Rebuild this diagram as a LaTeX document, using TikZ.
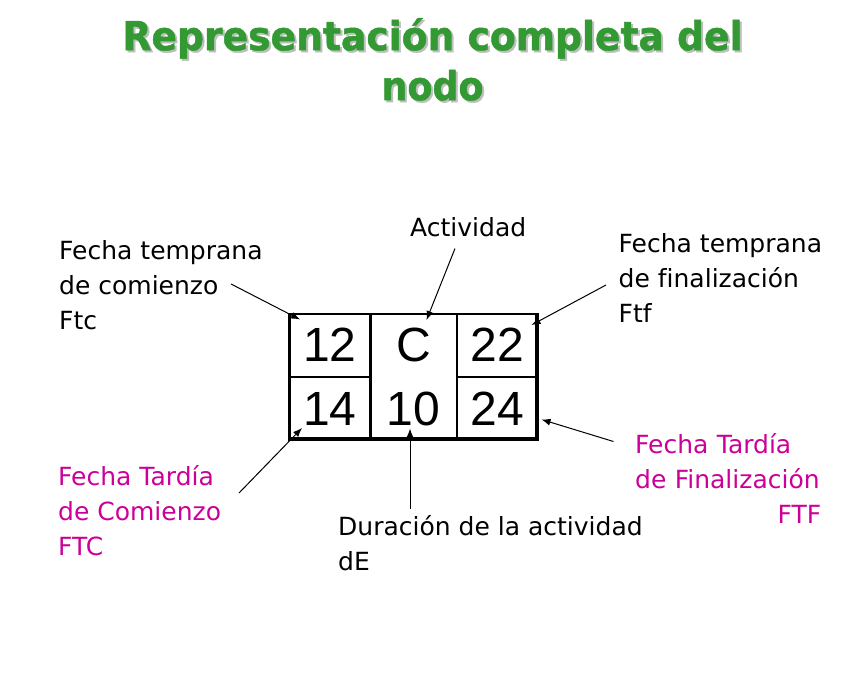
\documentclass[tikz,border=0pt]{standalone}
\usepackage{fontspec}
\usepackage{graphicx}
\usetikzlibrary{arrows.meta}
\newfontfamily\labfont{DejaVu Sans}[Ligatures=NoCommon]
\newfontfamily\titlefont{DejaVu Sans}[BoldFeatures={FakeBold=1.2}]
\newfontfamily\numfont{Liberation Sans}
\definecolor{titlegreen}{RGB}{51,153,51}
\definecolor{mag}{RGB}{204,0,153}
\definecolor{shadowgray}{RGB}{190,190,190}
\newcommand\shtext[1]{\makebox[0pt][l]{\hspace{2pt}\raisebox{-2pt}{\textcolor{shadowgray}{#1}}}#1}
\tikzset{
  lbl/.style={anchor=north west, inner sep=0pt, align=left, font=\labfont\fontsize{25}{35}\selectfont},
  numtxt/.style={inner sep=0pt, font=\numfont\fontsize{48}{50}\selectfont},
  titletxt/.style={anchor=north, inner sep=0pt, align=center, font=\titlefont\bfseries\fontsize{40}{50}\selectfont},
  conn/.style={line width=1pt, -{Latex[length=9pt,width=7pt]}},
  outer/.style={line width=2.5pt},
  outerthick/.style={line width=4.3pt, line join=miter},
  inner/.style={line width=2.4pt}
}
\begin{document}
\begin{tikzpicture}[x=1pt,y=-1pt]
\useasboundingbox[fill=white] (0,0) rectangle (864,672);
% title
\node[titletxt, text=titlegreen] (title) at (432.5,15) {\strut\shtext{\resizebox{620pt}{\height}{Representación completa del}}\\\shtext{\resizebox{102pt}{\height}{nodo}}};
% table grid
\draw[outer] (289.5,438.8) -- (289.5,314) -- (537.2,314);
\draw[outerthick] (537.2,312.7) -- (537.2,438.8) -- (288.3,438.8);
\draw[inner] (370.3,314) -- (370.3,438.8);
\draw[inner] (456.7,314) -- (456.7,438.8);
\draw[inner] (289.5,377) -- (370.3,377);
\draw[inner] (456.7,377) -- (537.2,377);
% cell texts
\node[numtxt] (n12) at (330,345) {12};
\node[numtxt] (nC) at (413.5,345) {C};
\node[numtxt] (n22) at (497,345) {22};
\node[numtxt] (n14) at (330,409) {14};
\node[numtxt] (n10) at (413.5,409) {10};
\node[numtxt] (n24) at (497,409) {24};
% labels
\node[lbl] (ftc) at (59,234.5) {\strut Fecha temprana\\de comienzo\\Ftc};
\node[lbl] (act) at (410,212) {\strut Actividad};
\node[lbl] (ftf) at (618.5,227.5) {\strut Fecha temprana\\de finalización\\Ftf};
\node[lbl, text=mag] (FTC) at (58,460.5) {\strut Fecha Tardía\\de Comienzo\\FTC};
\node[lbl] (dur) at (338,511) {\strut Duración de la actividad\\dE};
\node[lbl, text=mag, text width=186pt] (FTF) at (635,429) {\strut Fecha Tardía\\de Finalización\\\hfill FTF};
% connector ends
\coordinate (s1) at (231,284);   \coordinate (t1) at (300,319.5);
\coordinate (s2) at (455,248.5); \coordinate (t2) at (426.5,320);
\coordinate (s3) at (606,285);   \coordinate (t3) at (531.5,325);
\coordinate (s4) at (239,493);   \coordinate (t4) at (302,428);
\coordinate (s5) at (410,508.5); \coordinate (t5) at (410,428.5);
\coordinate (s6) at (613.5,441.5); \coordinate (t6) at (541.5,419.5);
\draw[conn] (s1) -- (t1);
\draw[conn] (s2) -- (t2);
\draw[conn] (s3) -- (t3);
\draw[conn] (s4) -- (t4);
\draw[conn] (s5) -- (t5);
\draw[conn] (s6) -- (t6);
\end{tikzpicture}
\end{document}
